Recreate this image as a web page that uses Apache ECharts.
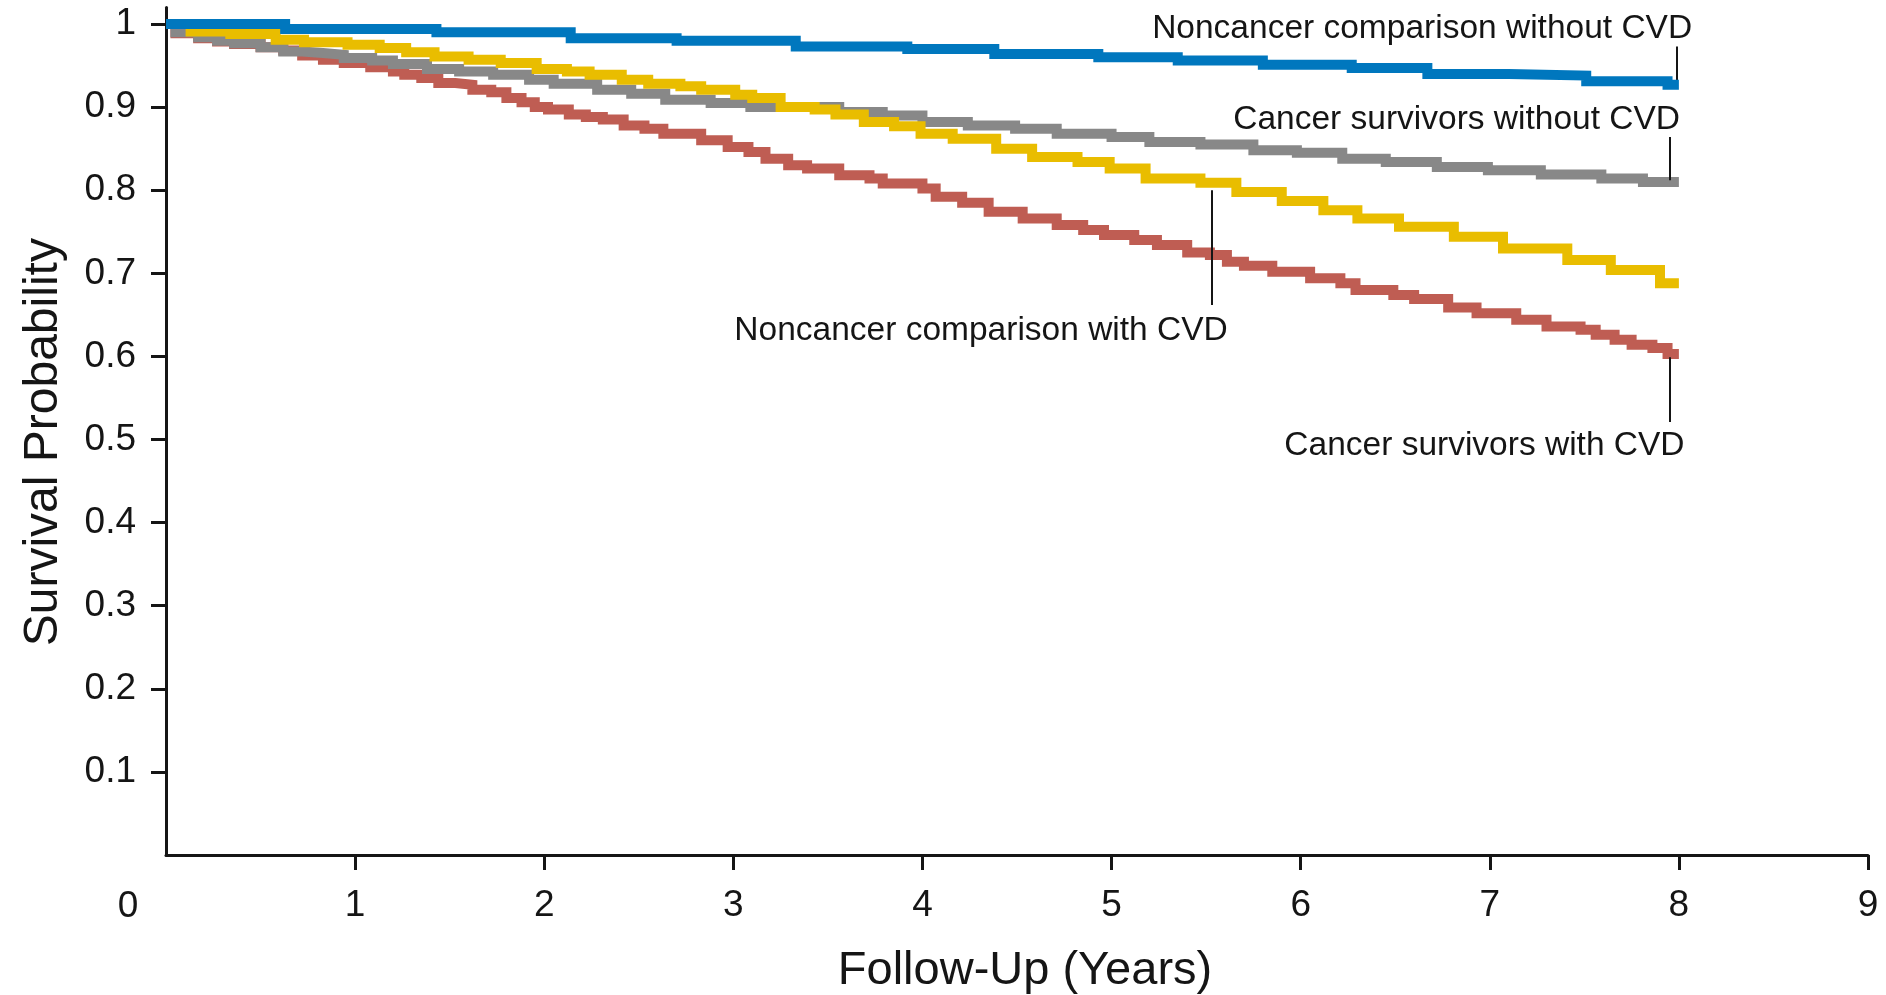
<!DOCTYPE html>
<html>
<head>
<meta charset="utf-8">
<script src="https://cdn.jsdelivr.net/npm/echarts@6/dist/echarts.min.js"></script>
<style>
  html, body { margin: 0; padding: 0; background: #fff; }
  #chart { width: 1886px; height: 995px; }
</style>
</head>
<body>
<div id="chart"></div>
<script>
// Kaplan-Meier curves: [years, survival] at each step
const noncancerWithoutCvd = [[0, 1.0], [0.63, 0.994], [1.43, 0.990], [2.14, 0.983], [2.70, 0.980], [3.33, 0.973], [3.92, 0.970], [4.38, 0.964], [4.93, 0.960], [5.35, 0.956], [5.80, 0.951], [6.27, 0.947], [6.67, 0.940], [7.10, 0.938], [7.51, 0.931], [7.94, 0.927], [8.0, 0.927]];
const cancerWithoutCvd = [[0, 1.0], [0.05, 0.990], [0.17, 0.984], [0.27, 0.980], [0.36, 0.977], [0.50, 0.972], [0.62, 0.967], [0.72, 0.965], [0.83, 0.963], [0.94, 0.959], [1.09, 0.956], [1.20, 0.952], [1.38, 0.946], [1.55, 0.943], [1.73, 0.939], [1.92, 0.933], [2.05, 0.928], [2.28, 0.921], [2.46, 0.916], [2.64, 0.909], [2.88, 0.905], [3.09, 0.900], [3.56, 0.894], [3.79, 0.890], [4.00, 0.882], [4.24, 0.878], [4.49, 0.874], [4.71, 0.868], [5.00, 0.864], [5.20, 0.858], [5.47, 0.855], [5.75, 0.848], [5.98, 0.845], [6.22, 0.838], [6.45, 0.834], [6.72, 0.828], [6.99, 0.824], [7.27, 0.819], [7.59, 0.814], [7.81, 0.810], [8.0, 0.810]];
const noncancerWithCvd = [[0, 1.0], [0.13, 0.991], [0.34, 0.988], [0.58, 0.981], [0.73, 0.978], [0.96, 0.975], [1.13, 0.971], [1.27, 0.966], [1.42, 0.961], [1.60, 0.957], [1.77, 0.953], [1.96, 0.946], [2.12, 0.943], [2.24, 0.939], [2.41, 0.933], [2.55, 0.928], [2.72, 0.925], [2.83, 0.921], [3.01, 0.915], [3.10, 0.911], [3.25, 0.900], [3.43, 0.897], [3.54, 0.891], [3.69, 0.882], [3.85, 0.877], [3.99, 0.868], [4.16, 0.862], [4.39, 0.850], [4.58, 0.840], [4.82, 0.834], [4.99, 0.826], [5.18, 0.814], [5.47, 0.809], [5.66, 0.798], [5.90, 0.787], [6.12, 0.776], [6.30, 0.766], [6.52, 0.756], [6.81, 0.744], [7.07, 0.730], [7.41, 0.716], [7.64, 0.704], [7.90, 0.688], [8.0, 0.688]];
const cancerWithCvd = [[0, 1.0], [0.05, 0.989], [0.17, 0.983], [0.27, 0.979], [0.36, 0.976], [0.50, 0.972], [0.62, 0.968], [0.72, 0.962], [0.83, 0.957], [0.94, 0.953], [1.08, 0.948], [1.20, 0.943], [1.26, 0.939], [1.35, 0.935], [1.44, 0.929], [1.53, 0.927], [1.62, 0.921], [1.72, 0.918], [1.80, 0.911], [1.88, 0.906], [1.95, 0.900], [2.02, 0.897], [2.13, 0.891], [2.22, 0.888], [2.31, 0.885], [2.42, 0.878], [2.53, 0.874], [2.63, 0.868], [2.83, 0.860], [2.97, 0.852], [3.08, 0.846], [3.17, 0.838], [3.29, 0.830], [3.39, 0.826], [3.56, 0.818], [3.72, 0.814], [3.79, 0.808], [4.00, 0.802], [4.07, 0.792], [4.21, 0.785], [4.35, 0.774], [4.53, 0.766], [4.71, 0.758], [4.85, 0.752], [4.96, 0.746], [5.12, 0.740], [5.24, 0.734], [5.40, 0.725], [5.52, 0.722], [5.61, 0.714], [5.70, 0.709], [5.85, 0.702], [6.05, 0.694], [6.21, 0.688], [6.29, 0.680], [6.49, 0.674], [6.60, 0.669], [6.78, 0.659], [6.93, 0.652], [7.14, 0.644], [7.30, 0.636], [7.48, 0.632], [7.56, 0.626], [7.66, 0.620], [7.75, 0.614], [7.86, 0.610], [7.94, 0.603], [8.0, 0.603]];

const xTicks = [1, 2, 3, 4, 5, 6, 7, 8, 9];
const yTicks = [0.1, 0.2, 0.3, 0.4, 0.5, 0.6, 0.7, 0.8, 0.9, 1];

const FONT = 'Liberation Sans, Arial, sans-serif';
const INK = '#151515';

// label anchor [t, S] and leader line from/to, per curve
function annotate(name, labelAt, align, from, to) {
    return {
        markLine: {
            silent: true,
            animation: false,
            symbol: ['none', 'none'],
            label: {show: false},
            lineStyle: {color: INK, width: 2, type: 'solid'},
            data: [[{coord: from}, {coord: to}]]
        },
        markPoint: {
            silent: true,
            animation: false,
            symbolSize: 0,
            data: [{coord: labelAt, value: name}],
            label: {
                show: true,
                position: [0, 0],
                align: align,
                verticalAlign: 'middle',
                formatter: name,
                color: INK,
                fontFamily: FONT,
                fontSize: 33.5
            }
        }
    };
}

const chart = echarts.init(document.getElementById('chart'));
chart.setOption({
    animation: false,
    backgroundColor: '#fff',
    grid: {left: 166, right: 18, top: 7.4, bottom: 140, outerBoundsMode: 'none'},
    xAxis: {
        type: 'value',
        min: 0,
        max: 9,
        interval: 1,
        name: 'Follow-Up (Years)',
        nameLocation: 'middle',
        nameGap: 93,
        nameTextStyle: {fontFamily: FONT, fontSize: 47, color: INK, padding: [0, 0, 0, 16]},
        splitLine: {show: false},
        axisLine: {lineStyle: {color: INK, width: 3}},
        axisTick: {customValues: xTicks, length: 15, lineStyle: {color: INK, width: 3}},
        axisLabel: {customValues: xTicks, margin: 32, fontFamily: FONT, fontSize: 37, color: INK}
    },
    yAxis: {
        type: 'value',
        min: 0,
        max: 1.02,
        interval: 0.1,
        name: 'Survival Probability',
        nameLocation: 'middle',
        nameGap: 98,
        nameTextStyle: {fontFamily: FONT, fontSize: 48, color: INK, padding: [0, 22, 0, 0]},
        splitLine: {show: false},
        axisLine: {lineStyle: {color: INK, width: 3}},
        axisTick: {customValues: yTicks, length: 15, lineStyle: {color: INK, width: 3}},
        axisLabel: {customValues: yTicks, margin: 30, fontFamily: FONT, fontSize: 37, color: INK,
            formatter: v => String(Math.round(v * 10) / 10)}
    },
    series: [
        {
            name: 'Cancer survivors with CVD',
            data: cancerWithCvd,
            color: '#BF5D53',
            z: 2,
            ...annotate('Cancer survivors with CVD', [8.03, 0.492], 'right', [7.95, 0.599], [7.95, 0.521])
        },
        {
            name: 'Cancer survivors without CVD',
            data: cancerWithoutCvd,
            color: '#888888',
            z: 3,
            ...annotate('Cancer survivors without CVD', [8.006, 0.885], 'right', [7.95, 0.812], [7.95, 0.864])
        },
        {
            name: 'Noncancer comparison with CVD',
            data: noncancerWithCvd,
            color: '#E9BD00',
            z: 4,
            ...annotate('Noncancer comparison with CVD', [4.31, 0.631], 'center', [5.53, 0.800], [5.53, 0.662])
        },
        {
            name: 'Noncancer comparison without CVD',
            data: noncancerWithoutCvd,
            color: '#0077BE',
            z: 5,
            ...annotate('Noncancer comparison without CVD', [8.07, 0.994], 'right', [7.99, 0.930], [7.99, 0.973])
        }
    ].map(obj => ({
        ...obj,
        type: 'line',
        step: 'end',
        showSymbol: false,
        symbol: 'none',
        lineStyle: {width: 10, join: 'miter', cap: 'butt'}
    }))
});

// origin label sits left of the corner, on the x label row
const origin = chart.convertToPixel({gridIndex: 0}, [0, 0]);
chart.setOption({
    graphic: [{
        type: 'text',
        x: origin[0] - 38,
        y: origin[1] + 52,
        style: {text: '0', font: '37px ' + FONT, fill: INK, align: 'center', verticalAlign: 'middle'}
    }]
});
</script>
</body>
</html>
